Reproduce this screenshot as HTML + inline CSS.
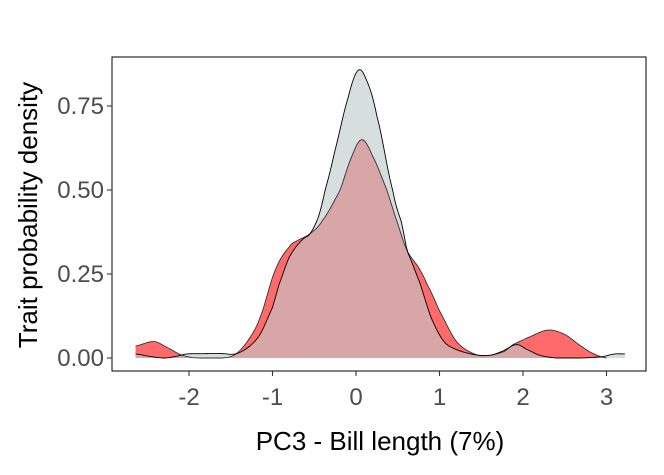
<!DOCTYPE html>
<html><head><meta charset="utf-8"><style>
body{margin:0;background:#fff;}
svg text{font-family:"Liberation Sans",Arial,sans-serif;}
</style></head><body>
<svg id="chart" width="664" height="470" viewBox="0 0 664 470">
<rect x="0" y="0" width="664" height="470" fill="#fff"/>
<g id="plot"></g>
<rect x="112" y="57" width="534" height="314" fill="none" stroke="#000" stroke-width="1"/>
<g id="axes"></g>
<text x="380" y="450" text-anchor="middle" font-size="26" fill="#000">PC3 - Bill length (7%)</text>
<text transform="translate(37,215) rotate(-90)" text-anchor="middle" font-size="26" fill="#000">Trait probability density</text>
</svg>
<script>
const greyX=[-2.64,-2.5,-2.3,-2.15,-2.03,-1.8,-1.6,-1.45,-1.3,-1.15,-1.0,-0.92,-0.8,-0.65,-0.55,-0.45,-0.37,-0.25,-0.1,0.02,0.12,0.25,0.44,0.55,0.61,0.77,0.9,1.05,1.2,1.42,1.6,1.75,1.92,2.05,2.2,2.4,2.7,2.95,3.1,3.22];
const greyY=[0.012,0.006,0.0,0.005,0.012,0.013,0.013,0.012,0.03,0.07,0.15,0.22,0.3,0.35,0.37,0.42,0.5,0.62,0.77,0.855,0.83,0.72,0.5,0.4,0.32,0.22,0.12,0.05,0.025,0.01,0.008,0.02,0.04,0.025,0.008,0.0,0.0,0.004,0.012,0.012];
const redX=[-2.64,-2.42,-2.25,-2.1,-1.95,-1.6,-1.45,-1.3,-1.15,-0.97,-0.8,-0.7,-0.55,-0.4,-0.19,-0.05,0.07,0.2,0.37,0.5,0.61,0.75,0.85,1.0,1.2,1.42,1.6,1.78,1.88,2.05,2.3,2.5,2.7,2.85,3.0];
const redY=[0.036,0.049,0.03,0.01,0.001,0.0,0.01,0.05,0.12,0.26,0.33,0.35,0.37,0.41,0.5,0.6,0.65,0.6,0.5,0.4,0.32,0.27,0.22,0.14,0.05,0.012,0.008,0.02,0.04,0.06,0.083,0.07,0.035,0.012,0.0];
const xTicks=[-2,-1,0,1,2,3];
const yTicks=[0,0.25,0.5,0.75];
const yTickLabels=["0.00","0.25","0.50","0.75"];
const xs=v=>356+v*83.5;
const ys=v=>358-v*336;
const NS="http://www.w3.org/2000/svg";
function interp(X,Y,x){
  if(x<X[0]||x>X[X.length-1])return null;
  for(let i=0;i<X.length-1;i++){
    if(x>=X[i]&&x<=X[i+1]){
      const t=(x-X[i])/(X[i+1]-X[i]);
      const p0=Y[Math.max(i-1,0)],p1=Y[i],p2=Y[i+1],p3=Y[Math.min(i+2,Y.length-1)];
      const t2=t*t,t3=t2*t;
      const v=0.5*((2*p1)+(-p0+p2)*t+(2*p0-5*p1+4*p2-p3)*t2+(-p0+3*p1-3*p2+p3)*t3);
      return Math.max(0,v);
    }
  }
  return null;
}
function curve(X,Y){
  const pts=[];const a=X[0],b=X[X.length-1];
  for(let k=0;k<=300;k++){const x=a+(b-a)*k/300;pts.push([x,interp(X,Y,x)]);}
  return pts;
}
function areaPath(pts){
  let d="M"+xs(pts[0][0])+","+ys(0);
  pts.forEach(p=>d+="L"+xs(p[0]).toFixed(2)+","+ys(p[1]).toFixed(2));
  d+="L"+xs(pts[pts.length-1][0])+","+ys(0)+"Z";return d;
}
function linePath(pts){return pts.map((p,i)=>(i?"L":"M")+xs(p[0]).toFixed(2)+","+ys(p[1]).toFixed(2)).join("");}
const plot=document.getElementById("plot");
function add(tag,attrs,parent){const e=document.createElementNS(NS,tag);for(const k in attrs)e.setAttribute(k,attrs[k]);(parent||plot).appendChild(e);return e;}
const g=curve(greyX,greyY), r=curve(redX,redY);
const ga=add("path",{d:areaPath(g),fill:"#d6dede"});


const ra=add("path",{d:areaPath(r),fill:"#ff6b6b"});


const ov=[];const lo=Math.max(greyX[0],redX[0]),hi=Math.min(greyX[greyX.length-1],redX[redX.length-1]);
for(let k=0;k<=300;k++){const x=lo+(hi-lo)*k/300;ov.push([x,Math.min(interp(greyX,greyY,x),interp(redX,redY,x))]);}
const oa=add("path",{d:areaPath(ov),fill:"#d8a6a6"});


const rl=add("path",{d:linePath(r),fill:"none",stroke:"#333",'stroke-width':"0.9"});


const gl=add("path",{d:linePath(g),fill:"none",stroke:"#000",'stroke-width':"0.9"});


const axes=document.getElementById("axes");
xTicks.forEach(v=>{
  const t=add("line",{x1:xs(v),x2:xs(v),y1:371,y2:376,stroke:"#333",'stroke-width':"1.1"},axes);
  
  
  const l=add("text",{x:xs(v),y:405,'text-anchor':"middle",'font-size':"24",fill:"#4d4d4d"},axes);
  l.textContent=v;
  
  
});
yTicks.forEach((v,i)=>{
  const t=add("line",{x1:107,x2:112,y1:ys(v),y2:ys(v),stroke:"#333",'stroke-width':"1.1"},axes);
  
  
  const l=add("text",{x:104,y:ys(v)+8,'text-anchor':"end",'font-size':"24",fill:"#4d4d4d"},axes);
  l.textContent=yTickLabels[i];
  
  
});
</script>
</body></html>
